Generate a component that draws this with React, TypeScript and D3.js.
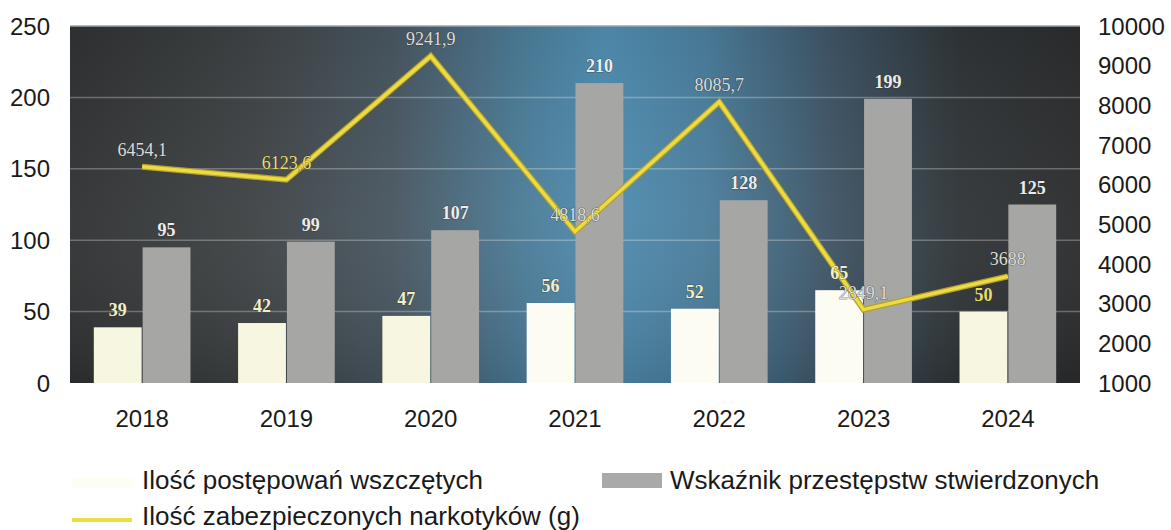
import React from "react";
import * as d3 from "d3";

const years = ["2018", "2019", "2020", "2021", "2022", "2023", "2024"];
const postepowania = [39, 42, 47, 56, 52, 65, 50];
const wskaznik = [95, 99, 107, 210, 128, 199, 125];
const narkotyki = [6454.1, 6123.6, 9241.9, 4818.6, 8085.7, 2849.1, 3688];
const narkotykiLabels = ["6454,1", "6123,6", "9241,9", "4818,6", "8085,7", "2849,1", "3688"];
const leftTicks = [0, 50, 100, 150, 200, 250];
const rightTicks = [1000, 2000, 3000, 4000, 5000, 6000, 7000, 8000, 9000, 10000];
const seriesNames = ["Ilość postępowań wszczętych", "Wskaźnik przestępstw stwierdzonych", "Ilość zabezpieczonych narkotyków (g)"];

const W = 1171, H = 530;
const plot = { left: 70, right: 1080, top: 26, bottom: 383 };

export default function App() {
  const x0 = d3.scaleBand<string>().domain(years).range([plot.left, plot.right]).paddingInner(0.33).paddingOuter(0.165);
  const bw = x0.bandwidth();
  const x1 = d3.scaleBand<string>().domain(["a", "b"]).range([0, bw]).paddingInner(0.02);
  const yL = d3.scaleLinear().domain([0, 250]).range([plot.bottom, plot.top]);
  const yR = d3.scaleLinear().domain([1000, 10000]).range([plot.bottom, plot.top]);
  const line = d3.line<number>().x((_, i) => (x0(years[i]) as number) + bw / 2).y((d) => yR(d));
  const pathD = line(narkotyki) || "";
  const axisFont = "'Liberation Sans', Arial, sans-serif";
  const labelFont = "'Liberation Serif', 'Times New Roman', serif";

  return (
    <svg width={W} height={H} style={{ position: "absolute", left: 0, top: 0, background: "#fff" }}>
      <defs>
        <linearGradient id="bg" x1="0" x2="1" y1="0" y2="0">
          <stop offset="0" stopColor="#2f3132" />
          <stop offset="0.18" stopColor="#3e4244" />
          <stop offset="0.32" stopColor="#485660" />
          <stop offset="0.45" stopColor="#4b7c98" />
          <stop offset="0.53" stopColor="#4f8db0" />
          <stop offset="0.63" stopColor="#4a7d9b" />
          <stop offset="0.76" stopColor="#3d5262" />
          <stop offset="0.88" stopColor="#2f3437" />
          <stop offset="1" stopColor="#2b2c2d" />
        </linearGradient>
        <linearGradient id="shade" x1="0" x2="0" y1="0" y2="1">
          <stop offset="0" stopColor="#000" stopOpacity="0.05" />
          <stop offset="0.5" stopColor="#fff" stopOpacity="0.04" />
          <stop offset="1" stopColor="#000" stopOpacity="0.12" />
        </linearGradient>
      </defs>
      <rect x={plot.left} y={plot.top} width={plot.right - plot.left} height={plot.bottom - plot.top} fill="url(#bg)" />
      <rect x={plot.left} y={plot.top} width={plot.right - plot.left} height={plot.bottom - plot.top} fill="url(#shade)" />
      <line x1={plot.left} x2={plot.right} y1={plot.top} y2={plot.top} stroke="#9aa4ad" strokeWidth={1.5} />
      {leftTicks.filter((t) => t > 0 && t < 250).map((t) => (
        <line key={t} x1={plot.left} x2={plot.right} y1={yL(t)} y2={yL(t)} stroke="#ffffff" strokeOpacity={0.28} strokeWidth={1.5} />
      ))}
      {years.map((yr, i) => {
        const gx = x0(yr) as number;
        return (
          <g key={yr}>
            <rect x={gx + (x1("a") as number)} y={yL(postepowania[i])} width={x1.bandwidth()} height={yL(0) - yL(postepowania[i])} fill={i >= 3 && i <= 5 ? "#fcfcf2" : "#f7f6e0"} />
            <rect x={gx + (x1("b") as number)} y={yL(wskaznik[i])} width={x1.bandwidth()} height={yL(0) - yL(wskaznik[i])} fill="#a6a7a5" />
          </g>
        );
      })}
      <path d={pathD} fill="none" stroke="#b5a22a" strokeWidth={6} strokeLinejoin="miter" />
      <path d={pathD} fill="none" stroke="#ecdb45" strokeWidth={3.5} strokeLinejoin="miter" />
      {years.map((yr, i) => {
        const gx = x0(yr) as number;
        return (
          <g key={"l" + yr} fontFamily={labelFont} fontSize={18} fontWeight="bold" textAnchor="middle"
            style={{ paintOrder: "stroke" }} stroke="rgba(40,40,40,0.45)" strokeWidth={1.2}>
            <text x={gx + (x1("a") as number) + x1.bandwidth() / 2} y={yL(postepowania[i]) - 11} fill={i === 6 ? "#e6dc6a" : "#f2efc8"}>{postepowania[i]}</text>
            <text x={gx + (x1("b") as number) + x1.bandwidth() / 2} y={yL(wskaznik[i]) - 11} fill="#ececec">{wskaznik[i]}</text>
            <text x={gx + bw / 2} y={yR(narkotyki[i]) - 11} fill={i === 1 ? "#e8dc70" : "#dcdcd6"} fontWeight="normal">{narkotykiLabels[i]}</text>
          </g>
        );
      })}
      <g fontFamily={axisFont} fontSize={24} fill="#1a1a1a">
        {leftTicks.map((t) => (
          <text key={t} x={50} y={yL(t)} dy="0.36em" textAnchor="end">{t}</text>
        ))}
        {rightTicks.map((t) => (
          <text key={t} x={1098} y={yR(t)} dy="0.36em" textAnchor="start">{t}</text>
        ))}
        {years.map((yr) => (
          <text key={yr} x={(x0(yr) as number) + bw / 2} y={427} textAnchor="middle">{yr}</text>
        ))}
      </g>
      <g fontFamily={axisFont} fontSize={26} fill="#1a1a1a">
        <rect x={72} y={478} width={60} height={10} fill="#fdfdf3" />
        <text x={142} y={489}>{seriesNames[0]}</text>
        <rect x={602} y={473} width={60} height={15} fill="#a9aaa8" />
        <text x={670} y={489}>{seriesNames[1]}</text>
        <line x1={72} x2={132} y1={520} y2={520} stroke="#e8e040" strokeWidth={4} />
        <text x={142} y={525}>{seriesNames[2]}</text>
      </g>
    </svg>
  );
}
